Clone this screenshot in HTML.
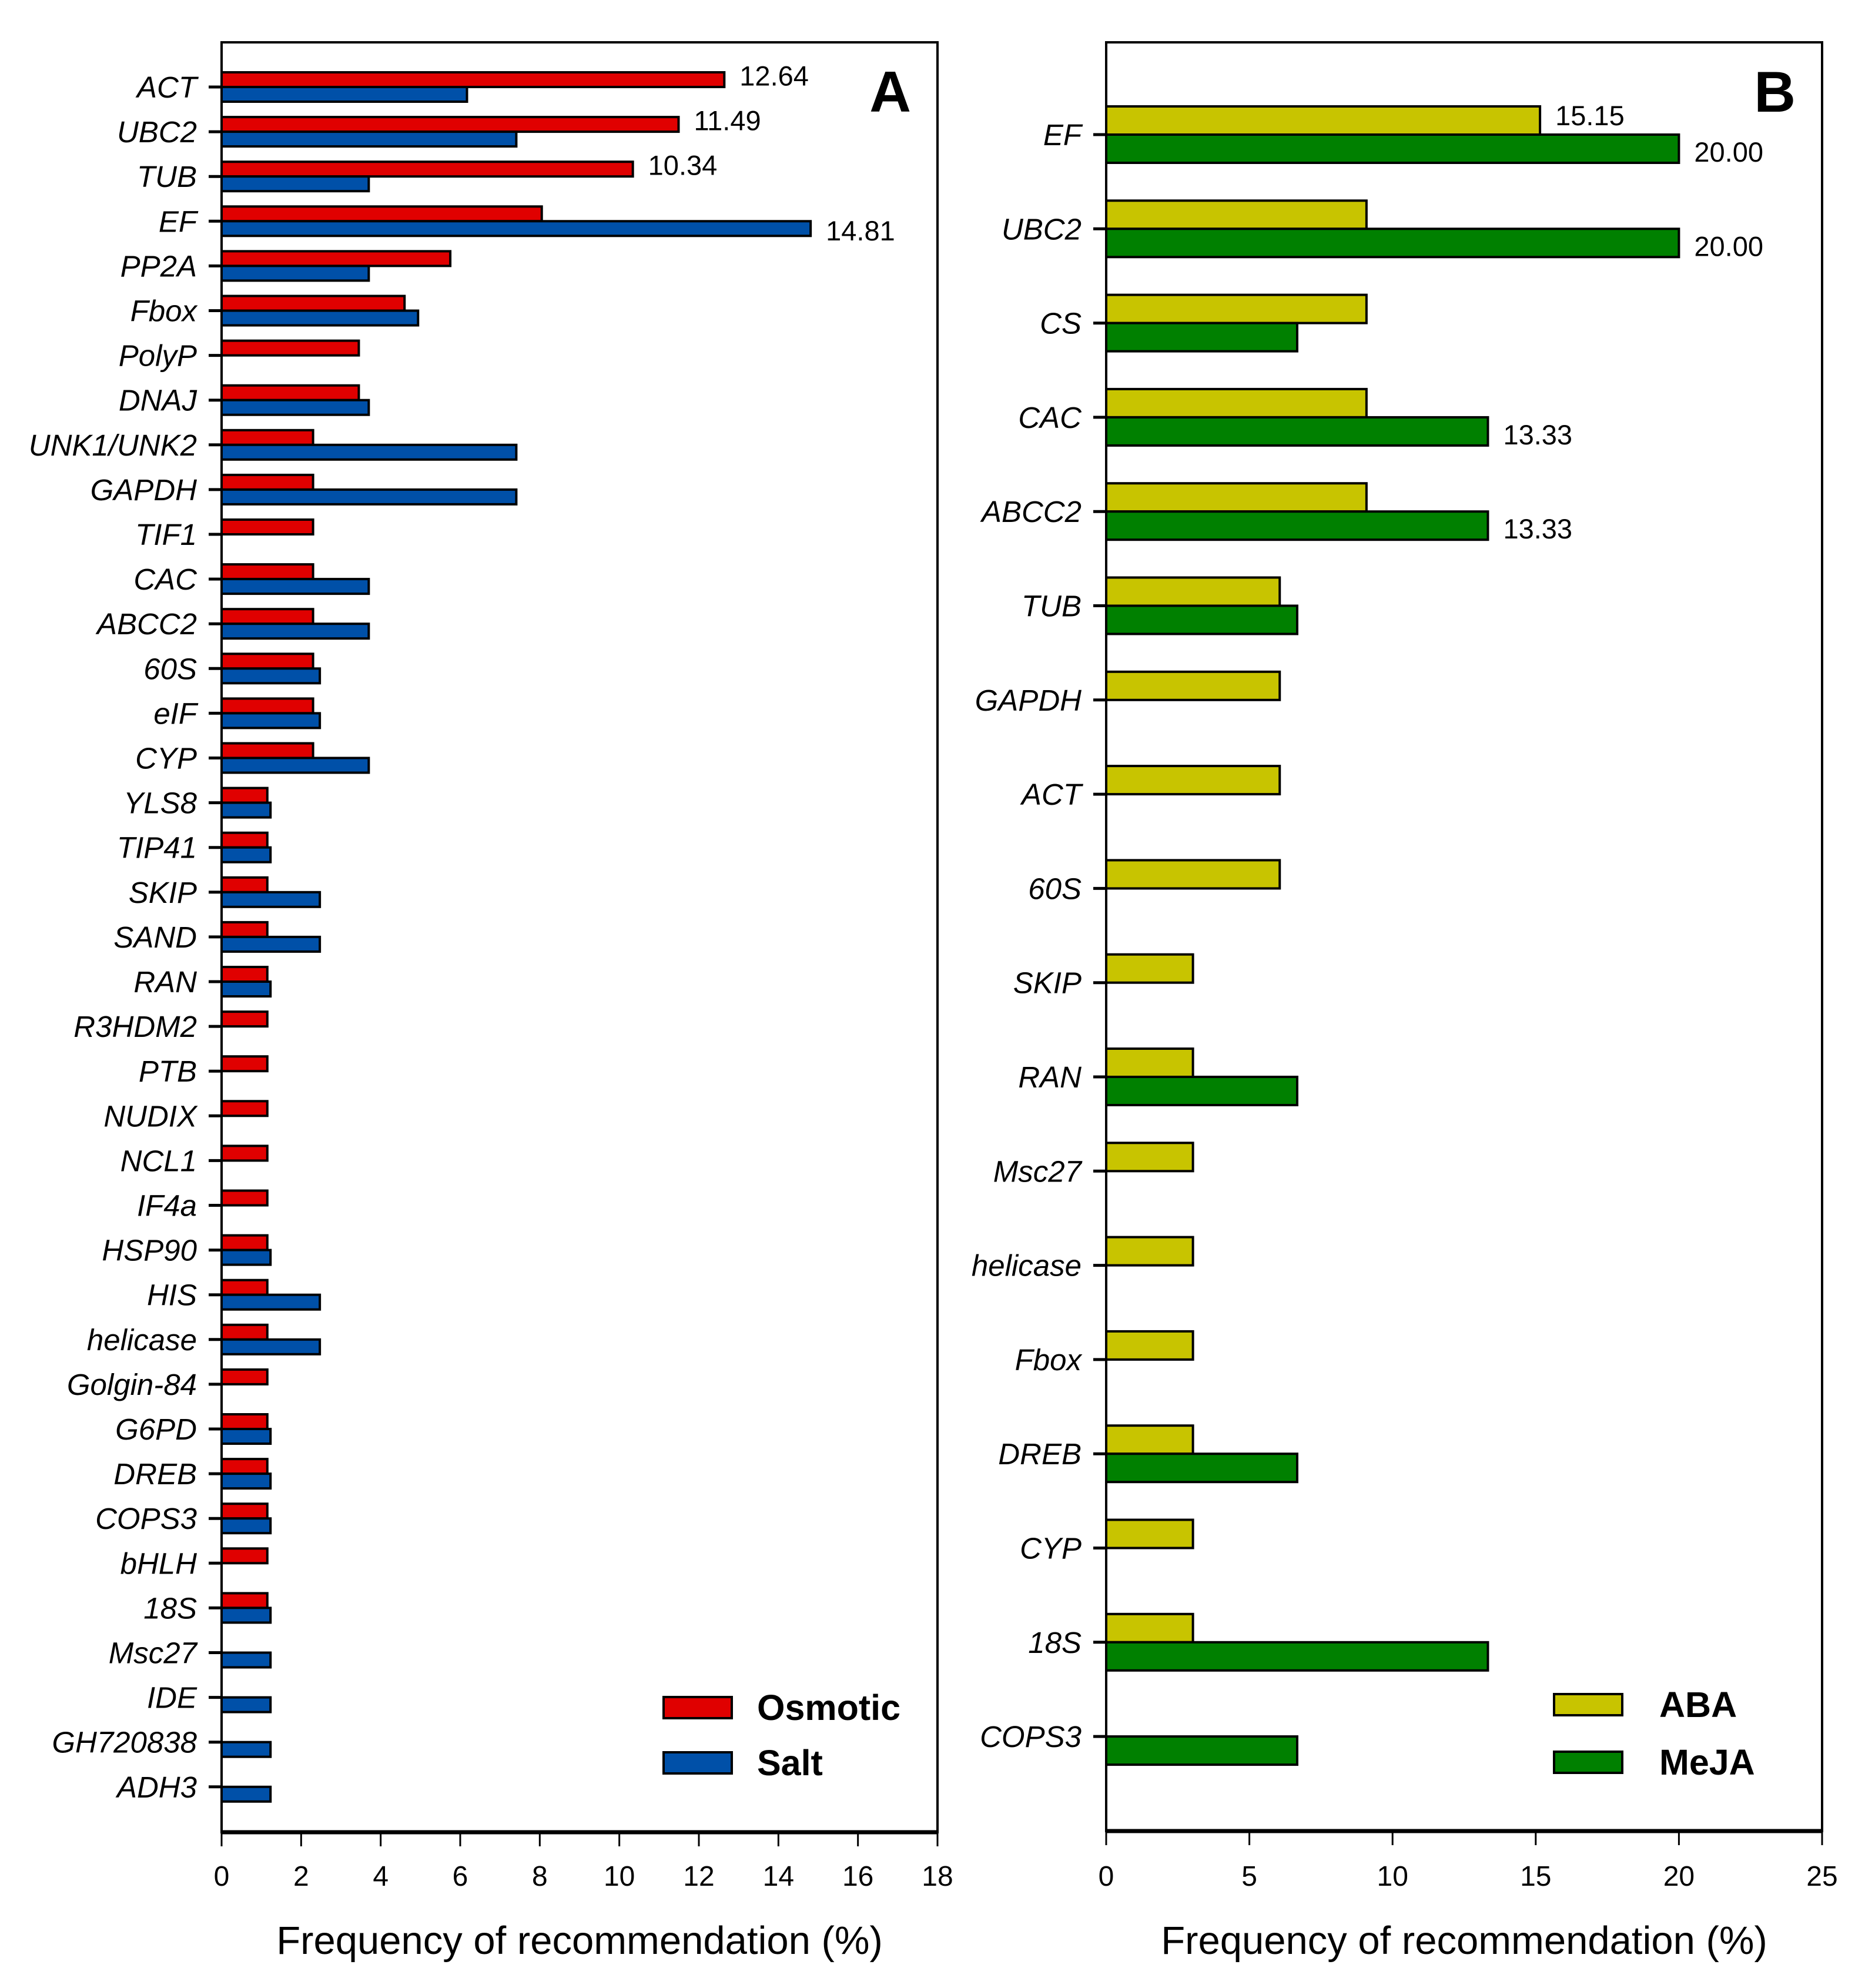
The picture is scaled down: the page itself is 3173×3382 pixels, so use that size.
<!DOCTYPE html>
<html><head><meta charset="utf-8"><style>body{margin:0;background:#fff}svg{display:block}text{font-family:"Liberation Sans",sans-serif}</style></head>
<body>
<svg id="c" width="3173" height="3382" viewBox="0 0 3173 3382" xmlns="http://www.w3.org/2000/svg"></svg>
<script>
const catsA=["ACT","UBC2","TUB","EF","PP2A","Fbox","PolyP","DNAJ","UNK1/UNK2","GAPDH","TIF1","CAC","ABCC2","60S","eIF","CYP","YLS8","TIP41","SKIP","SAND","RAN","R3HDM2","PTB","NUDIX","NCL1","IF4a","HSP90","HIS","helicase","Golgin-84","G6PD","DREB","COPS3","bHLH","18S","Msc27","IDE","GH720838","ADH3"];
const osmotic=[12.64,11.49,10.34,8.05,5.75,4.60,3.45,3.45,2.30,2.30,2.30,2.30,2.30,2.30,2.30,2.30,1.15,1.15,1.15,1.15,1.15,1.15,1.15,1.15,1.15,1.15,1.15,1.15,1.15,1.15,1.15,1.15,1.15,1.15,1.15,0,0,0,0];
const salt=[6.17,7.41,3.70,14.81,3.70,4.94,0,3.70,7.41,7.41,0,3.70,3.70,2.47,2.47,3.70,1.23,1.23,2.47,2.47,1.23,0,0,0,0,0,1.23,2.47,2.47,0,1.23,1.23,1.23,0,1.23,1.23,1.23,1.23,1.23];
const labelsA=["12.64","11.49","10.34",null,"14.81"];
const ticksA=[0,2,4,6,8,10,12,14,16,18];
const catsB=["EF","UBC2","CS","CAC","ABCC2","TUB","GAPDH","ACT","60S","SKIP","RAN","Msc27","helicase","Fbox","DREB","CYP","18S","COPS3"];
const aba=[15.15,9.09,9.09,9.09,9.09,6.06,6.06,6.06,6.06,3.03,3.03,3.03,3.03,3.03,3.03,3.03,3.03,0];
const meja=[20,20,6.67,13.33,13.33,6.67,0,0,0,0,6.67,0,0,0,6.67,0,13.33,6.67];
const ticksB=[0,5,10,15,20,25];

const svg=document.getElementById('c');const NS="http://www.w3.org/2000/svg";
function el(t,a,txt){const e=document.createElementNS(NS,t);for(const k in a)e.setAttribute(k,a[k]);if(txt!=null)e.textContent=txt;svg.appendChild(e);return e;}

function panel(o){
  const x=v=>o.x0+(o.x1-o.x0)*v/o.max;
  const y=i=>o.yc0+i*o.step;
  o.cats.forEach((c,i)=>{
    const t=el('line',{x1:o.x0-22,x2:o.x0,y1:y(i),y2:y(i),stroke:'#000','stroke-width':5});
    
    const l=el('text',{x:o.x0-42,y:y(i)+o.labDy,'font-size':51,'font-style':'italic','text-anchor':'end'},c);
    
  });
  o.s1.forEach((v,i)=>{ if(v>0){
    const r=el('rect',{x:o.x0,y:y(i)-o.bh,width:x(v)-o.x0,height:o.bh,fill:o.c1,stroke:'#000','stroke-width':4});
    }});
  o.s2.forEach((v,i)=>{ if(v>0){
    const r=el('rect',{x:o.x0,y:y(i),width:x(v)-o.x0,height:o.bh,fill:o.c2,stroke:'#000','stroke-width':4});
    }});
  o.vl.forEach(([i,s,txt])=>{
    const v=s==1?o.s1[i]:o.s2[i];
    const yy=s==1?y(i)-o.bh/2-o.ldy:y(i)+o.bh/2+o.ldy2;
    const t=el('text',{x:x(v)+26,y:yy+16,'font-size':47},txt);
    
  });
  const f=el('rect',{x:o.x0,y:72,width:o.x1-o.x0,height:o.yb-72,fill:'none',stroke:'#000','stroke-width':4});
  
  el('line',{x1:o.x0,x2:o.x1,y1:o.yb,y2:o.yb,stroke:'#000','stroke-width':7});
  o.ticks.forEach(v=>{
    const t=el('line',{x1:x(v),x2:x(v),y1:o.yb,y2:o.yb+24,stroke:'#000','stroke-width':3});
    
    const l=el('text',{x:x(v),y:3208,'font-size':48,'text-anchor':'middle'},String(v));
    
  });
  const at=el('text',{x:(o.x0+o.x1)/2,y:3324,'font-size':67,'text-anchor':'middle'},'Frequency of recommendation (%)');
  
  const pl=el('text',{x:o.x1-45,y:190,'font-size':98,'font-weight':'bold','text-anchor':'end'},o.letter);
  
  o.leg.forEach(([ly,col,txt])=>{
    const r=el('rect',{x:o.lx,y:ly-18,width:116,height:36,fill:col,stroke:'#000','stroke-width':4});
    
    const t=el('text',{x:o.lx+o.ltx,y:ly+21,'font-size':61,'font-weight':'bold'},txt);
    
  });
}
panel({x0:377,x1:1595,max:18,yc0:148,step:76.1,bh:25,yb:3117,cats:catsA,s1:osmotic,s2:salt,c1:'#e00000',c2:'#0050a8',n1:'osmotic',n2:'salt',labDy:18,
  vl:[[0,1,labelsA[0]],[1,1,labelsA[1]],[2,1,labelsA[2]],[3,2,labelsA[4]]],ldy:6,ldy2:4,ticks:ticksA,letter:'A',lx:1129,ltx:159,leg:[[2905,'#e00000','Osmotic'],[2999,'#0050a8','Salt']]});
panel({x0:1882,x1:3100,max:25,yc0:229,step:160.3,bh:48,yb:3115,cats:catsB,s1:aba,s2:meja,c1:'#c8c400',c2:'#008000',n1:'aba',n2:'meja',labDy:18,
  vl:[[0,1,"15.15"],[0,2,"20.00"],[1,2,"20.00"],[3,2,"13.33"],[4,2,"13.33"]],ldy:8,ldy2:6,ticks:ticksB,letter:'B',lx:2644,ltx:179,leg:[[2900,'#c8c400','ABA'],[2998,'#008000','MeJA']]});
</script>
</body></html>
